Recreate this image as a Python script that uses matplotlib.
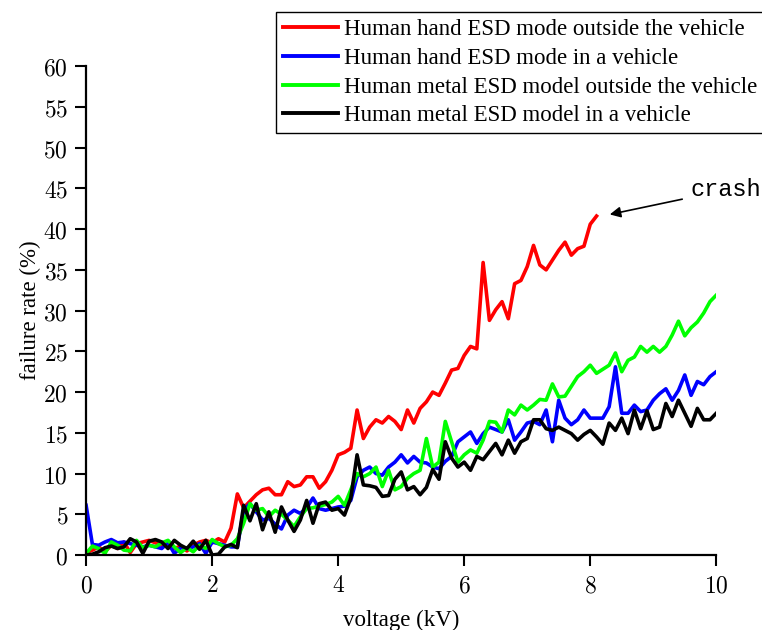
import numpy as np
import matplotlib
matplotlib.use('Agg')
import matplotlib.pyplot as plt
from matplotlib.ticker import FuncFormatter

# failure rate (%), one point every 0.1 kV
hand_out = [0.3, 0.6, 1.0, 0.4, 1.2, 0.8, 1.6, 0.3, 1.4, 1.6, 1.8, 1.5, 1.2, 1.6, 0.8, 1.1,
            0.5, 1.2, 1.6, 1.8, 1.5, 2.0, 1.6, 3.3,
            7.5, 5.8, 6.6, 7.4, 8.0, 8.2, 7.4, 7.4, 9.0, 8.4, 8.6, 9.6, 9.6, 8.2, 9.0, 10.4,
            12.3, 12.6, 13.1, 17.8, 14.3, 15.7, 16.6, 16.2, 17.0, 16.4, 15.4, 17.8, 16.2,
            18.0, 18.8, 20.0, 19.6, 21.1, 22.7, 22.9, 24.5, 25.6, 25.3, 35.9, 28.8, 30.1,
            31.1, 29.0, 33.3, 33.7, 35.4, 38.0, 35.6, 35.0, 36.2, 37.4, 38.4, 36.8, 37.6,
            37.9, 40.6, 41.6]
hand_in = [6.1, 1.3, 1.2, 1.6, 1.9, 1.5, 1.6, 1.4, 1.2, 1.0, 1.2, 1.0, 0.8, 1.5, 0.2, 0.9,
           0.8, 1.0, 1.4, 0.2, 1.6, 1.4, 1.2, 1.0, 1.0,
           5.5, 6.3, 5.3, 4.3, 4.5, 3.8, 3.2, 4.9, 5.5, 5.1, 5.8, 7.0, 5.7, 5.5, 5.7, 5.9,
           6.0, 6.7,
           9.6, 10.4, 10.8, 10.0, 9.8, 10.8, 11.4, 12.3, 11.3, 12.1, 11.4, 11.3, 10.8, 10.6,
           11.5, 12.1, 13.9,
           14.5, 15.1, 13.7, 14.9, 15.7, 15.4, 15.1, 16.6, 14.1, 15.1, 16.2, 16.4, 16.0,
           17.8, 13.9, 19.0, 16.8, 16.0, 16.6, 17.8,
           16.8, 16.8, 16.8, 18.2, 23.1, 17.4, 17.4, 18.4, 17.6, 17.8, 19.0, 19.8, 20.4,
           19.0, 20.2, 22.1, 19.6, 21.3, 20.9, 21.9, 22.5]
metal_out = [0.2, 1.1, 0.8, 0.2, 1.6, 1.2, 0.6, 0.5, 1.8, 0.9, 1.2, 1.0, 1.5, 1.8, 1.0, 0.3,
             0.9, 0.4, 1.2, 0.8, 1.9, 1.4, 1.0, 1.2,
             2.0, 3.9, 6.3, 5.5, 5.7, 4.7, 5.5, 5.0, 4.3, 3.5, 4.7, 5.7, 5.8, 6.0, 6.2, 6.5,
             7.2, 6.1, 8.0,
             10.0, 9.6, 10.0, 10.8, 8.4, 10.4, 8.0, 8.4, 9.4, 10.0, 10.4, 14.3, 10.8, 11.4,
             16.4, 13.9, 11.4,
             12.3, 12.9, 12.5, 14.1, 16.4, 16.3, 15.1, 17.8, 17.2, 18.4, 17.8, 18.4, 19.1,
             19.0, 21.0, 19.4, 19.5, 20.7, 21.9, 22.5,
             23.3, 22.3, 22.8, 23.3, 24.8, 22.5, 23.9, 24.3, 25.6, 24.9, 25.6, 24.9, 25.6,
             27.0, 28.7, 26.9, 27.9, 28.6, 29.7, 31.1, 31.9]
metal_in = [0.0, 0.1, 0.4, 0.9, 1.1, 0.8, 1.0, 2.0, 1.6, 0.2, 1.7, 1.9, 1.6, 0.8, 1.8, 1.2,
            0.8, 1.7, 0.7, 1.8, 0.0, 0.1, 1.0, 1.3, 0.9,
            6.1, 4.2, 6.3, 3.1, 5.3, 2.8, 5.9, 4.3, 2.9, 4.3, 6.7, 3.9, 6.3, 6.5, 5.5, 5.7,
            4.9, 7.0,
            12.3, 8.6, 8.5, 8.3, 7.2, 7.3, 9.3, 10.2, 8.0, 8.4, 7.4, 8.3, 10.5, 9.3, 13.9,
            11.9, 10.8,
            11.4, 10.4, 12.1, 11.7, 12.7, 13.7, 12.3, 14.1, 12.5, 13.9, 14.3, 16.6, 16.6,
            15.5, 15.3, 15.7, 15.3, 14.9, 14.1, 14.8,
            15.3, 14.5, 13.6, 16.2, 15.3, 16.8, 14.9, 17.8, 15.5, 17.7, 15.4, 15.7, 18.6,
            17.0, 19.0, 17.4, 15.8, 18.0, 16.6, 16.6, 17.4]

labels = ['Human hand ESD mode outside the vehicle',
          'Human hand ESD mode in a vehicle',
          'Human metal ESD model outside the vehicle',
          'Human metal ESD model in a vehicle']
colors = ['#ff0000', '#0000ff', '#00ff00', '#000000']

plt.rcParams['mathtext.fontset'] = 'cm'

fig = plt.figure(figsize=(7.62, 6.3), dpi=100)
ax = fig.add_axes([0.113, 0.119, 0.827, 0.776])

series = [hand_out, hand_in, metal_out, metal_in]
for vals, lab, col in zip(series, labels, colors):
    v = np.arange(len(vals)) * 0.1
    ax.plot(v, vals, color=col, lw=2.6, label=lab)

ax.set_xlim(0, 10)
ax.set_ylim(0, 60)
ax.set_xticks([0, 2, 4, 6, 8, 10])
ax.set_yticks(range(0, 61, 5))
fmt = FuncFormatter(lambda val, pos: '$%g$' % val)
ax.xaxis.set_major_formatter(fmt)
ax.yaxis.set_major_formatter(fmt)
for s in ['top', 'right']:
    ax.spines[s].set_visible(False)
for s in ['left', 'bottom']:
    ax.spines[s].set_linewidth(1.6)
ax.tick_params(direction='out', length=8, width=1.5, labelsize=17, pad=5)
ax.tick_params(axis='x', pad=5)

ax.set_xlabel('voltage (kV)', family='Liberation Serif', fontsize=16.5, labelpad=9)
ax.set_ylabel('failure rate (%)', family='Liberation Serif', fontsize=16.5, labelpad=2)

ax.annotate('crash', xy=(8.31, 41.8), xytext=(9.59, 44.8), ha='left', va='center',
            family='Liberation Mono', fontsize=17,
            arrowprops=dict(arrowstyle='-|>', color='black', lw=1.2,
                            mutation_scale=16, shrinkA=4, shrinkB=0))

leg = ax.legend(loc='upper left', bbox_to_anchor=(0.362, 0.981),
                bbox_transform=fig.transFigure, borderaxespad=0,
                prop={'family': 'Liberation Serif', 'size': 16.5},
                handlelength=2.4, handletextpad=0.28, labelspacing=0.34,
                borderpad=0.3, fancybox=False, framealpha=1)
leg.get_frame().set_edgecolor('black')
leg.get_frame().set_linewidth(1.0)
for line in leg.get_lines():
    line.set_linewidth(2.8)

fig.savefig('out.png', dpi=100)
